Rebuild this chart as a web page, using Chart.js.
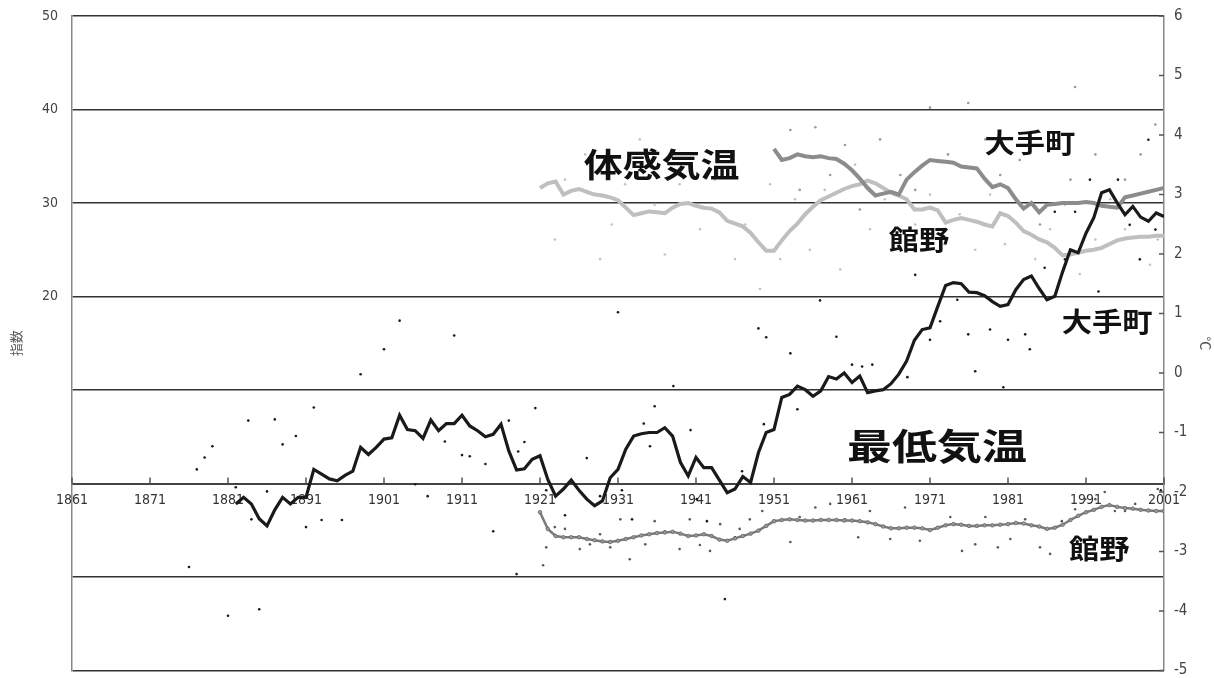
<!DOCTYPE html>
<html lang="ja">
<head>
<meta charset="utf-8">
<title>体感気温・最低気温の推移</title>
<script src="https://cdn.jsdelivr.net/npm/chart.js@4/dist/chart.umd.min.js"></script>
<style>
  html, body { margin: 0; padding: 0; background: #fff; }
  #wrap { width: 1214px; height: 678px; }
</style>
</head>
<body>
<div id="wrap"><canvas id="chart" width="1214" height="678"></canvas></div>
<script>
// 年軸の目盛り
const xTickYears  = [1861, 1871, 1881, 1891, 1901, 1911, 1921, 1931, 1941, 1951, 1961, 1971, 1981, 1991, 2001];
const xTickLabels = ['1861', '1871', '1881', '1891', '1901', '1911', '1921', '1931', '1941', '1951', '1961', '1971', '1981', '1991', '2001'];

// 最低気温 (°C, 右軸) 移動平均
const otemachiMinStart = 1882;
const otemachiMin = [
  -2.20, -2.09, -2.20, -2.45, -2.57, -2.30, -2.09, -2.20, -2.09, -2.09,
  -1.62, -1.70, -1.78, -1.81, -1.72, -1.65, -1.25, -1.37, -1.25, -1.11,
  -1.09, -0.71, -0.95, -0.97, -1.10, -0.79, -0.97, -0.85, -0.85, -0.71,
  -0.89, -0.97, -1.07, -1.03, -0.86, -1.31, -1.63, -1.61, -1.45, -1.39,
  -1.79, -2.07, -1.95, -1.80, -1.97, -2.12, -2.23, -2.15, -1.76, -1.62,
  -1.28, -1.06, -1.02, -1.00, -1.00, -0.92, -1.06, -1.50, -1.73, -1.42,
  -1.59, -1.59, -1.80, -2.01, -1.95, -1.74, -1.84, -1.34, -1.00, -0.95,
  -0.41, -0.36, -0.22, -0.28, -0.39, -0.30, -0.06, -0.10,  0.00, -0.16,
  -0.05, -0.33, -0.30, -0.28, -0.18, -0.02,  0.20,  0.55,  0.73,  0.76,
   1.12,  1.47,  1.52,  1.50,  1.36,  1.35,  1.30,  1.20,  1.12,  1.15,
   1.40,  1.57,  1.63,  1.42,  1.23,  1.29,  1.70,  2.07,  2.02,  2.35,
   2.61,  3.03,  3.08,  2.86,  2.66,  2.80,  2.62,  2.55,  2.69,  2.63
];

const tatenoMinStart = 1921;
const tatenoMin = [
  -2.34, -2.62, -2.74, -2.76, -2.76, -2.76, -2.79, -2.81, -2.83, -2.84,
  -2.82, -2.79, -2.76, -2.73, -2.71, -2.69, -2.68, -2.67, -2.70, -2.74,
  -2.73, -2.71, -2.74, -2.80, -2.82, -2.78, -2.74, -2.70, -2.65, -2.57,
  -2.49, -2.47, -2.46, -2.47, -2.48, -2.48, -2.47, -2.47, -2.47, -2.48,
  -2.48, -2.49, -2.51, -2.54, -2.58, -2.61, -2.61, -2.60, -2.60, -2.61,
  -2.64, -2.60, -2.56, -2.54, -2.55, -2.57, -2.57, -2.56, -2.56, -2.55,
  -2.54, -2.52, -2.53, -2.56, -2.58, -2.62, -2.60, -2.55, -2.47, -2.40,
  -2.34, -2.30, -2.25, -2.22, -2.25, -2.27, -2.28, -2.30, -2.31, -2.32,
  -2.32
];

// 体感気温 (指数, 左軸) 移動平均
const otemachiFeelStart = 1951;
const otemachiFeel = [
  35.8, 34.6, 34.8, 35.2, 35.0, 34.9, 35.0, 34.8, 34.7, 34.2,
  33.5, 32.6, 31.6, 30.8, 31.0, 31.2, 30.9, 32.5, 33.3, 34.0,
  34.6, 34.5, 34.4, 34.3, 33.9, 33.8, 33.7, 32.6, 31.7, 32.0,
  31.6, 30.4, 29.4, 30.0, 29.0, 29.8, 29.9, 30.0, 30.0, 30.0,
  30.1, 30.0, 29.7, 29.6, 29.5, 30.6, 30.8, 31.0, 31.2, 31.4,
  31.6
];

const tatenoFeelStart = 1921;
const tatenoFeel = [
  31.6, 32.1, 32.3, 30.9, 31.3, 31.5, 31.2, 30.9, 30.8, 30.6,
  30.3, 29.5, 28.7, 28.9, 29.1, 29.0, 28.9, 29.5, 29.9, 30.0,
  29.7, 29.5, 29.4, 29.0, 28.1, 27.8, 27.5, 26.8, 25.8, 24.9,
  24.9, 26.0, 27.0, 27.8, 28.8, 29.6, 30.3, 30.7, 31.1, 31.5,
  31.8, 32.0, 32.4, 32.1, 31.6, 31.1, 30.8, 30.4, 29.3, 29.3,
  29.5, 29.2, 27.9, 28.2, 28.4, 28.2, 28.0, 27.7, 27.5, 28.9,
  28.6, 27.9, 27.0, 26.6, 26.1, 25.8, 25.2, 24.4, 24.5, 24.7,
  24.9, 25.0, 25.2, 25.6, 26.0, 26.2, 26.3, 26.4, 26.4, 26.5,
  26.5
];

// 各年の値 [年, 値]
const otemachiMinDots = [
  [1876, -3.26], [1877, -1.62], [1878, -1.42], [1879, -1.23], [1881, -4.08], [1882, -1.92],
  [1883.6, -0.80], [1884, -2.46], [1885, -3.97], [1886, -1.99], [1887, -0.78], [1888, -1.20],
  [1889.7, -1.06], [1891, -2.59], [1892, -0.58], [1893, -2.47], [1895.6, -2.47], [1898, -0.02],
  [1901, 0.40], [1903, 0.88], [1905, -1.87], [1906.6, -2.07], [1908.8, -1.15], [1910, 0.63],
  [1911, -1.38], [1912, -1.40], [1914, -1.53], [1915, -2.66], [1917, -0.80], [1918, -3.38],
  [1918.2, -1.32], [1919, -1.16], [1920.4, -0.59], [1921.8, -1.97], [1924.2, -2.39], [1927, -1.43],
  [1928.7, -2.07], [1931, 1.02], [1931.5, -1.97], [1932.8, -2.46], [1934.3, -0.85], [1935.1, -1.23],
  [1935.7, -0.56], [1938.1, -0.22], [1940.3, -0.96], [1941.1, -2.12], [1942.4, -2.49], [1944.7, -3.80],
  [1946, -2.76], [1946.9, -1.65], [1949, 0.75], [1949.7, -0.86], [1950, 0.60], [1953.1, 0.33],
  [1954, -0.61], [1956.9, 1.22], [1959, 0.61], [1961, 0.14], [1962.3, 0.11], [1963.6, 0.14],
  [1968.1, -0.07], [1969.1, 1.65], [1971, 0.56], [1972.3, 0.87], [1974.5, 1.23], [1975.9, 0.65],
  [1976.8, 0.03], [1978.7, 0.73], [1980.4, -0.24], [1981, 0.56], [1983.2, 0.65], [1983.8, 0.40],
  [1985.7, 1.77], [1987, 2.71], [1988.3, 1.91], [1989.6, 2.71], [1991.5, 3.25], [1992.6, 1.37],
  [1995.1, 3.25], [1996.6, 2.49], [1997.9, 1.91], [1999, 3.92], [1999.9, 2.41], [2000.6, -1.97]
];

const tatenoMinDots = [
  [1921.4, -3.23], [1921.8, -2.93], [1922.9, -2.59], [1924.2, -2.62], [1926.1, -2.96], [1927.4, -2.88],
  [1928.7, -2.71], [1930, -2.93], [1931.3, -2.46], [1932.5, -3.13], [1934.5, -2.88], [1935.7, -2.49],
  [1937, -2.66], [1938.9, -2.96], [1940.2, -2.46], [1941.5, -2.89], [1942.8, -2.99], [1944.1, -2.54],
  [1946.6, -2.62], [1947.9, -2.46], [1949.5, -2.32], [1953.1, -2.84], [1954.3, -2.42], [1956.3, -2.26],
  [1958.2, -2.20], [1960.1, -2.46], [1961.8, -2.76], [1963.3, -2.32], [1965.9, -2.79], [1967.8, -2.26],
  [1969.7, -2.82], [1971.6, -2.62], [1973.6, -2.42], [1975.1, -2.99], [1976.8, -2.88], [1978.1, -2.42],
  [1979.7, -2.93], [1981.3, -2.79], [1983.2, -2.46], [1985.1, -2.93], [1986.4, -3.04], [1987.9, -2.49],
  [1989.6, -2.29], [1990.9, -2.12], [1992.2, -2.12], [1993.4, -2.00], [1994.7, -2.32], [1996, -2.32],
  [1997.3, -2.20], [1999, -2.32], [2000.2, -1.95]
];

const otemachiFeelDots = [
  [1953.1, 37.8], [1954.3, 31.4], [1956.3, 38.1], [1958.2, 33.0], [1960.1, 36.2], [1962, 29.3],
  [1964.6, 36.8], [1967.2, 33.0], [1969.1, 31.4], [1971, 40.2], [1973.3, 35.2], [1975.9, 40.7],
  [1978.1, 36.8], [1980, 33.0], [1982.5, 34.6], [1985.1, 27.7], [1987, 36.2], [1989, 32.5],
  [1989.6, 42.4], [1992.2, 35.2], [1996, 32.5], [1998, 35.2], [1999.9, 38.4]
];

const tatenoFeelDots = [
  [1922.9, 26.1], [1924.2, 32.5], [1926.8, 35.2], [1928.7, 24.0], [1930.2, 27.7], [1931.9, 32.0],
  [1933.8, 36.8], [1935.7, 29.8], [1937, 24.5], [1938.9, 32.0], [1941.5, 27.2], [1943.4, 32.5],
  [1946, 24.0], [1947.3, 27.7], [1949.2, 20.8], [1950.5, 32.0], [1951.8, 24.0], [1953.7, 30.4],
  [1955.6, 25.0], [1957.5, 31.4], [1959.5, 22.9], [1961.4, 34.1], [1963.3, 27.2], [1965.2, 30.4],
  [1967.2, 26.1], [1969.1, 27.7], [1971, 30.9], [1972.9, 25.6], [1974.8, 28.8], [1976.8, 25.0],
  [1978.7, 30.9], [1980.6, 25.6], [1982.5, 29.8], [1984.5, 24.0], [1986.4, 27.2], [1988.3, 29.8],
  [1990.2, 22.4], [1992.2, 26.1], [1994.1, 30.4], [1996, 27.2], [1999.2, 23.4], [2000.2, 26.1]
];

// 図中の注記 (位置は年と左軸の指数で指定)
const notes = [
  { text: '体感気温', x: 1936.6, y: 34.1, size: 33, sx: 1.18 },
  { text: '大手町',   x: 1983.8, y: 36.4, size: 27, sx: 1.12 },
  { text: '館野',     x: 1969.6, y: 26.1, size: 27, sx: 1.12 },
  { text: '大手町',   x: 1993.7, y: 17.3, size: 27, sx: 1.12 },
  { text: '最低気温', x: 1971.9, y: 4.0,  size: 36, sx: 1.25 },
  { text: '館野',     x: 1992.7, y: -7.0, size: 27, sx: 1.12 }
];

const series = (start, vals) => vals.map((v, i) => ({ x: start + i, y: v }));
const pairs = arr => arr.map(([x, y]) => ({ x, y }));

const tickFont = { family: "'Liberation Sans Narrow', 'DejaVu Sans Condensed', 'Liberation Sans', sans-serif", size: 14, lineHeight: 1 };
const jpFont = "'Noto Sans CJK JP', 'Noto Sans', sans-serif";

// 注記の文字と軸の内向き目盛り
const notesPlugin = {
    id: 'notes',
    afterDatasetsDraw(chart) {
        const { ctx, scales } = chart;
        const x = scales.x, y = scales.y, y2 = scales.y2;
        const axisY = y.getPixelForValue(0);

        ctx.save();
        ctx.strokeStyle = '#555';
        ctx.lineWidth = 1.5;
        xTickYears.forEach(v => {
            const px = x.getPixelForValue(v);
            ctx.beginPath();
            ctx.moveTo(px, axisY);
            ctx.lineTo(px, axisY - 6);
            ctx.stroke();
        });
        y2.ticks.forEach(t => {
            const py = y2.getPixelForValue(t.value);
            ctx.beginPath();
            ctx.moveTo(y2.left, py);
            ctx.lineTo(y2.left - 5, py);
            ctx.stroke();
        });

        ctx.fillStyle = '#111';
        ctx.textAlign = 'center';
        ctx.textBaseline = 'middle';
        notes.forEach(n => {
            ctx.save();
            ctx.translate(x.getPixelForValue(n.x), y.getPixelForValue(n.y));
            ctx.scale(n.sx, 1);
            ctx.font = `bold ${n.size}px ${jpFont}`;
            ctx.fillText(n.text, 0, 0);
            ctx.restore();
        });
        ctx.restore();
    }
};

const dots = (data, color, axis) => ({
    type: 'scatter',
    data: data,
    yAxisID: axis,
    showLine: false,
    pointRadius: 1.3,
    pointBackgroundColor: color,
    pointBorderWidth: 0,
    order: 10
});

new Chart(document.getElementById('chart'), {
    type: 'line',
    data: {
        datasets: [
            dots(pairs(tatenoFeelDots), '#c4c4c4', 'y'),
            dots(pairs(otemachiFeelDots), '#9a9a9a', 'y'),
            dots(pairs(tatenoMinDots), '#5a5a5a', 'y2'),
            dots(pairs(otemachiMinDots), '#1a1a1a', 'y2'),
            {
                label: '館野 体感気温',
                data: series(tatenoFeelStart, tatenoFeel),
                yAxisID: 'y',
                borderColor: '#bfbfbf',
                borderWidth: 4,
                pointRadius: 0,
                tension: 0,
                order: 3
            },
            {
                label: '大手町 体感気温',
                data: series(otemachiFeelStart, otemachiFeel),
                yAxisID: 'y',
                borderColor: '#8c8c8c',
                borderWidth: 4,
                pointRadius: 0,
                tension: 0,
                order: 2
            },
            {
                label: '館野 最低気温',
                data: series(tatenoMinStart, tatenoMin),
                yAxisID: 'y2',
                borderColor: '#7a7a7a',
                borderWidth: 2.5,
                pointRadius: 1.8,
                pointBackgroundColor: '#9a9a9a',
                pointBorderColor: '#666',
                pointBorderWidth: 0.8,
                tension: 0,
                order: 1
            },
            {
                label: '大手町 最低気温',
                data: series(otemachiMinStart, otemachiMin),
                yAxisID: 'y2',
                borderColor: '#1a1a1a',
                borderWidth: 3.2,
                pointRadius: 0,
                tension: 0,
                order: 0
            }
        ]
    },
    options: {
        responsive: false,
        animation: false,
        events: [],
        layout: { padding: { top: 16, bottom: 6, left: 0, right: 0 } },
        plugins: {
            legend: { display: false },
            tooltip: { enabled: false }
        },
        scales: {
            x: {
                type: 'linear',
                min: 1861,
                max: 2001,
                position: { y: 0 },
                afterBuildTicks: scale => { scale.ticks = xTickYears.map(v => ({ value: v })); },
                ticks: {
                    autoSkip: false,
                    maxRotation: 0,
                    padding: 10,
                    color: '#333',
                    font: { ...tickFont, size: 14 },
                    callback: value => xTickLabels[xTickYears.indexOf(value)]
                },
                grid: { drawOnChartArea: false, drawTicks: false },
                border: { color: '#444', width: 2 }
            },
            y: {
                position: 'left',
                min: -20,
                max: 50,
                afterFit: scale => { scale.width = 72; },
                ticks: {
                    stepSize: 10,
                    padding: 0,
                    color: '#444',
                    font: tickFont,
                    callback: value => (value >= 20 ? value : '')
                },
                grid: { color: '#333', lineWidth: 1.5, drawTicks: true, tickLength: 14, tickColor: 'rgba(0,0,0,0)' },
                border: { color: '#888', width: 1.5 },
                title: {
                    display: true,
                    text: '指数',
                    color: '#555',
                    font: { family: jpFont, size: 13 },
                    padding: { top: 8, bottom: 0 }
                }
            },
            y2: {
                position: 'right',
                min: -5,
                max: 6,
                afterFit: scale => { scale.width = 50; },
                ticks: {
                    stepSize: 1,
                    padding: 0,
                    color: '#444',
                    font: { ...tickFont, size: 15 }
                },
                grid: { drawOnChartArea: false, drawTicks: true, tickLength: 10, tickColor: 'rgba(0,0,0,0)' },
                border: { color: '#888', width: 1.5 },
                title: {
                    display: true,
                    text: '°C',
                    color: '#555',
                    font: { family: jpFont, size: 14 },
                    padding: { top: 0, bottom: 0 }
                }
            }
        }
    },
    plugins: [notesPlugin]
});
</script>
</body>
</html>
